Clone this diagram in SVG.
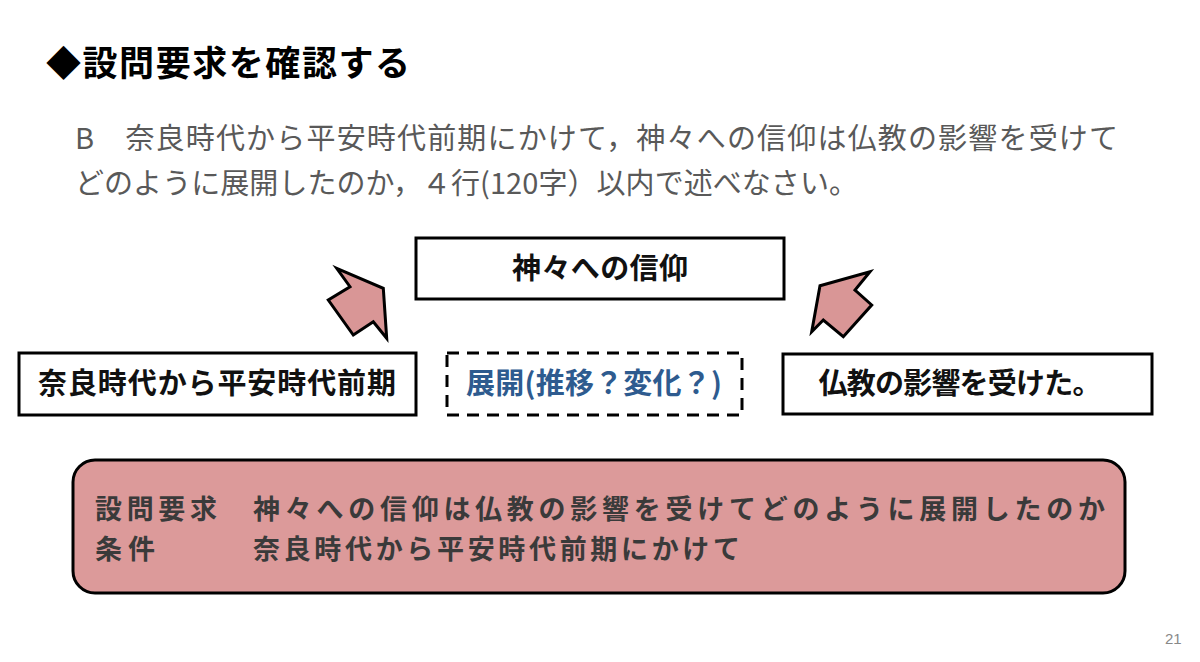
<svg xmlns="http://www.w3.org/2000/svg" width="1200" height="662" viewBox="0 0 1200 662">
<style>
text{font-family:"Noto Sans CJK JP","Noto Sans",sans-serif}
.box{fill:#fff;stroke:#000;stroke-width:3}
.lbl{font-size:29px;font-weight:bold;fill:#111;text-anchor:middle}
.para{font-size:29px;fill:#595959}
.req{font-size:27px;font-weight:bold;fill:#3a3a3a}
.arrow{fill:#d99696;stroke:#000;stroke-width:3;stroke-linejoin:miter}
</style>
<rect width="1200" height="662" fill="#fff"/>
<text x="46" y="76" font-size="35" font-weight="bold" fill="#000" textLength="364">◆設問要求を確認する</text>
<text class="para" x="75" y="149" textLength="1043">B　奈良時代から平安時代前期にかけて，神々への信仰は仏教の影響を受けて</text>
<text class="para" x="75" y="194" textLength="783">どのように展開したのか，４行(120字）以内で述べなさい。</text>

<g id="connectors">
<polygon class="arrow" points="336.7,268.3 383.3,288.3 386.7,338.3 373.3,321.7 353.3,335 328.3,300 350,286.7"/>
<polygon class="arrow" points="820,285.7 870,271.7 855,290 871.7,305 843.3,336.7 823.3,320 811.7,331.7"/>
</g>

<g id="node-top">
<rect class="box" x="416" y="238" width="368" height="61"/>
<text class="lbl" x="600" y="279" textLength="176">神々への信仰</text>
</g>
<g id="node-left">
<rect class="box" x="19" y="353" width="397" height="62"/>
<text class="lbl" x="217" y="394" textLength="358">奈良時代から平安時代前期</text>
</g>
<g id="node-center">
<rect x="447" y="353" width="295" height="62" fill="#fff" stroke="#000" stroke-width="3" stroke-dasharray="12,8"/>
<text class="lbl" x="594" y="394" style="fill:#2e5b8f" textLength="256">展開(推移？変化？)</text>
</g>
<g id="node-right">
<rect class="box" x="783" y="354" width="369" height="60"/>
<text class="lbl" x="960" y="394" textLength="283">仏教の影響を受けた。</text>
</g>
<g id="node-requirement">
<rect x="73" y="460" width="1052" height="133" rx="22" fill="#dc9a9a" stroke="#000" stroke-width="3"/>
<text class="req" x="95" y="519" textLength="122">設問要求</text>
<text class="req" x="253" y="519" textLength="852">神々への信仰は仏教の影響を受けてどのように展開したのか</text>
<text class="req" x="95" y="559" textLength="60">条件</text>
<text class="req" x="253" y="559" textLength="487">奈良時代から平安時代前期にかけて</text>
</g>
<text x="1165" y="644" font-size="15" fill="#888" style="font-family:'Liberation Sans',sans-serif">21</text>
</svg>
